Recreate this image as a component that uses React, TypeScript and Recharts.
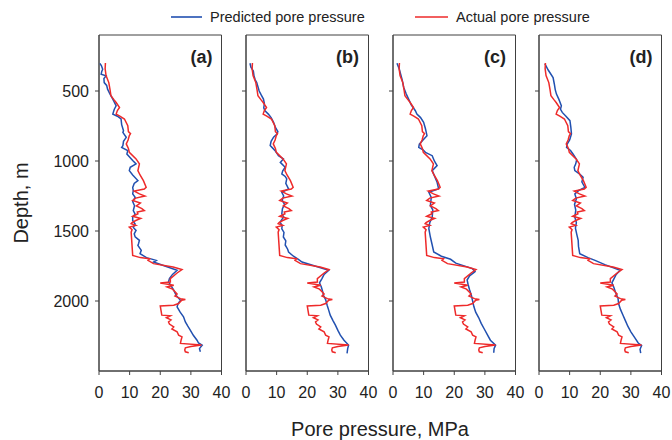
import React from "react";
import { ScatterChart, Scatter, XAxis, YAxis, ReferenceArea } from "recharts";

// [depth m, pore pressure MPa]
const actualRows = [
  [300, 2.1], [340, 2.0], [390, 2.3], [440, 3.2], [490, 3.6], [534, 3.9], [560, 4.8], [582, 5.6],
  [618, 6.7], [640, 6.0], [665, 5.6], [680, 6.8], [700, 8.3], [748, 9.4], [790, 9.6], [805, 10.3],
  [819, 9.9], [850, 9.5], [878, 8.9], [910, 9.6], [938, 9.9], [985, 12.1], [1021, 13.2], [1069, 12.7],
  [1100, 13.4], [1140, 14.5], [1188, 15.4], [1200, 14.8], [1215, 11.5], [1235, 13.2], [1250, 15.0],
  [1265, 12.0], [1282, 11.0], [1300, 13.5], [1320, 12.2], [1340, 14.0], [1354, 14.8], [1365, 12.5],
  [1377, 12.7], [1395, 11.0], [1410, 13.6], [1425, 12.0], [1440, 10.8], [1448, 10.5], [1460, 12.0],
  [1472, 9.9], [1490, 10.8], [1508, 10.5], [1674, 11.0], [1690, 13.5], [1698, 16.5], [1710, 16.0],
  [1733, 17.8], [1757, 24.2], [1776, 27.1], [1800, 25.5], [1840, 23.3], [1864, 23.3], [1871, 20.0],
  [1880, 22.5], [1888, 24.4], [1900, 22.2], [1915, 24.0], [1935, 24.9], [1950, 25.5], [1965, 24.8],
  [1983, 26.6], [1990, 28.2], [1995, 27.0], [2018, 26.0], [2030, 24.4], [2035, 20.0], [2101, 20.5],
  [2106, 23.3], [2120, 22.0], [2135, 23.5], [2149, 22.7], [2165, 23.0], [2185, 24.4], [2200, 23.8],
  [2220, 25.5], [2244, 26.0], [2256, 27.1], [2280, 26.8], [2303, 26.6], [2315, 33.5], [2325, 30.0],
  [2334, 28.2], [2350, 28.0], [2363, 28.2], [2370, 29.3],
];

const predictedRowsA = [
  [302, 0.3], [320, 0.8], [344, 1.2], [360, 0.9], [380, 0.7], [392, 2.3], [410, 1.6], [440, 1.7],
  [460, 2.5], [487, 2.8], [522, 3.6], [558, 4.5], [580, 5.0], [606, 5.6], [630, 5.0], [665, 4.5],
  [680, 6.0], [700, 7.2], [740, 7.4], [784, 8.0], [796, 7.8], [831, 8.9], [860, 8.0], [890, 7.8],
  [903, 7.4], [926, 9.4], [950, 9.1], [997, 11.0], [1021, 12.1], [1045, 10.2], [1069, 9.9],
  [1100, 11.0], [1140, 12.7], [1160, 11.5], [1190, 11.0], [1211, 11.2], [1235, 11.0], [1260, 11.8],
  [1290, 11.0], [1320, 11.6], [1354, 11.2], [1380, 11.8], [1400, 11.0], [1425, 11.0], [1450, 11.8],
  [1475, 11.2], [1496, 12.1], [1520, 11.5], [1542, 11.8], [1567, 13.2], [1591, 12.9], [1603, 12.7],
  [1638, 13.8], [1662, 13.4], [1690, 15.5], [1710, 18.7], [1722, 17.8], [1750, 21.5], [1781, 25.5],
  [1810, 24.0], [1840, 23.0], [1864, 22.7], [1890, 23.5], [1923, 24.4], [1960, 25.2], [1995, 26.6],
  [2020, 25.8], [2042, 25.5], [2080, 26.5], [2113, 27.6], [2150, 28.2], [2180, 29.0], [2208, 29.8],
  [2245, 30.8], [2280, 32.0], [2300, 32.5], [2315, 33.7], [2340, 32.8], [2363, 33.1],
];

const predictedRowsB = [
  [302, 1.3], [330, 1.6], [357, 2.4], [390, 2.6], [420, 3.0], [440, 3.5], [470, 3.9], [500, 4.3],
  [530, 5.0], [558, 5.7], [590, 6.0], [620, 5.8], [641, 6.2], [665, 7.3], [690, 8.2], [724, 9.0],
  [760, 9.6], [790, 10.4], [807, 10.1], [830, 9.0], [860, 8.2], [890, 7.9], [910, 8.8], [926, 9.5],
  [962, 10.6], [985, 12.2], [1010, 11.2], [1045, 12.8], [1070, 12.0], [1092, 11.7], [1110, 12.8],
  [1128, 13.3], [1160, 13.0], [1199, 13.9], [1223, 11.7], [1250, 12.3], [1280, 11.8], [1310, 12.6],
  [1340, 11.9], [1377, 11.7], [1400, 12.3], [1437, 11.1], [1460, 11.8], [1484, 11.7], [1510, 12.4],
  [1543, 12.2], [1570, 13.0], [1600, 12.8], [1630, 13.6], [1650, 13.9], [1680, 15.5], [1702, 17.1],
  [1722, 18.3], [1750, 22.5], [1781, 27.0], [1810, 25.5], [1840, 24.8], [1870, 24.0], [1900, 24.6],
  [1930, 25.0], [1959, 25.3], [1990, 26.0], [2030, 26.5], [2065, 27.0], [2101, 27.5], [2140, 28.4],
  [2172, 29.2], [2210, 30.0], [2244, 30.8], [2280, 32.0], [2315, 33.5], [2340, 33.2], [2374, 33.0],
];

const predictedRowsC = [
  [302, 1.3], [340, 2.0], [380, 2.5], [420, 3.0], [475, 3.5], [520, 4.3], [558, 5.1], [600, 6.0],
  [625, 6.8], [641, 7.3], [665, 7.8], [690, 9.0], [724, 10.0], [770, 10.6], [819, 11.1], [850, 9.8],
  [880, 8.6], [903, 8.4], [920, 9.8], [938, 10.6], [962, 12.8], [1000, 13.5], [1033, 14.4],
  [1069, 12.8], [1110, 13.6], [1152, 14.4], [1199, 14.9], [1223, 11.7], [1260, 12.5], [1318, 12.2],
  [1350, 13.0], [1400, 12.8], [1440, 12.0], [1484, 11.7], [1543, 12.2], [1600, 12.8], [1650, 13.3],
  [1680, 15.8], [1702, 18.8], [1730, 20.5], [1769, 25.9], [1790, 26.8], [1820, 25.0], [1850, 24.2],
  [1880, 24.5], [1920, 25.0], [1960, 25.6], [2000, 26.0], [2040, 26.4], [2080, 27.0], [2120, 28.0],
  [2160, 28.8], [2200, 29.8], [2240, 30.8], [2280, 31.8], [2315, 33.5], [2340, 33.0], [2370, 32.9],
];

const predictedRowsD = [
  [304, 1.9], [350, 3.0], [404, 4.6], [450, 5.0], [490, 5.3], [522, 5.7], [560, 6.5], [606, 7.3],
  [630, 7.0], [653, 7.6], [680, 8.8], [712, 10.1], [760, 10.4], [807, 10.6], [850, 10.0], [880, 9.2],
  [903, 9.0], [925, 10.3], [950, 11.1], [990, 12.3], [1020, 12.0], [1045, 11.5], [1069, 11.7],
  [1092, 13.2], [1116, 14.4], [1150, 14.0], [1188, 15.0], [1210, 13.0], [1235, 11.7], [1270, 12.2],
  [1310, 11.6], [1350, 12.0], [1402, 11.7], [1440, 12.2], [1480, 11.9], [1520, 12.3], [1567, 12.8],
  [1610, 12.9], [1662, 13.3], [1690, 16.0], [1710, 18.3], [1740, 21.5], [1781, 26.5], [1810, 25.2],
  [1840, 24.5], [1870, 23.8], [1900, 24.4], [1940, 25.0], [1980, 25.8], [2020, 26.0], [2060, 26.6],
  [2100, 27.4], [2140, 28.2], [2180, 29.0], [2220, 30.0], [2260, 31.2], [2300, 32.4], [2318, 33.5],
  [2345, 33.0], [2372, 33.2],
];

const panelLabels = ["(a)", "(b)", "(c)", "(d)"];
const pressureTicks = [0, 10, 20, 30, 40];
const depthTicks = [500, 1000, 1500, 2000];

const toPoints = (rows: number[][]) => rows.map(([d, p]) => ({ d, p }));
const actual = toPoints(actualRows);
const predicted = [predictedRowsA, predictedRowsB, predictedRowsC, predictedRowsD].map(toPoints);

const BLUE = "#2150b0";
const RED = "#ee2a2a";
const AXIS = "#404040";
const DEPTH_DOMAIN = [100, 2500];
const PANEL_LEFT = [99, 245.5, 392.5, 539];
const PANEL_W = 122.5;
const PLOT_TOP = 35;
const FONT = "'Liberation Sans', Arial, Helvetica, sans-serif";

const NoDot = () => null;

function Panel({ index }: { index: number }) {
  const first = index === 0;
  return (
    <div style={{ position: "absolute", left: PANEL_LEFT[index] - 60, top: 0 }}>
      <ScatterChart width={193} height={440} margin={{ top: PLOT_TOP, right: 193 - 60 - PANEL_W, bottom: 39, left: 0 }}>
        <XAxis
          type="number"
          dataKey="p"
          domain={[0, 40]}
          ticks={pressureTicks}
          interval={0}
          height={30}
          tickSize={4}
          tickMargin={12}
          stroke={AXIS}
          tick={{ fill: "#222", fontSize: 16 }}
        />
        <YAxis
          type="number"
          dataKey="d"
          domain={DEPTH_DOMAIN}
          reversed
          ticks={depthTicks}
          interval={0}
          width={60}
          tickSize={4}
          tickMargin={6}
          stroke={AXIS}
          tick={{ fill: "#222", fontSize: 16 }}
          tickFormatter={first ? undefined : () => ""}
        />
        <ReferenceArea
          x1={0}
          x2={40}
          y1={DEPTH_DOMAIN[0]}
          y2={DEPTH_DOMAIN[1]}
          fill="none"
          fillOpacity={0}
          stroke={AXIS}
          strokeOpacity={1}
        />
        <Scatter
          data={predicted[index]}
          line={{ stroke: BLUE, strokeWidth: 1.5 }}
          shape={NoDot}
          isAnimationActive={false}
        />
        <Scatter
          data={actual}
          line={{ stroke: RED, strokeWidth: 1.5 }}
          shape={NoDot}
          isAnimationActive={false}
        />
      </ScatterChart>
    </div>
  );
}

export default function App() {
  return (
    <div style={{ position: "absolute", left: 0, top: 0, width: 672, height: 440, background: "#fff", fontFamily: FONT }}>
      {panelLabels.map((_, i) => (
        <Panel key={i} index={i} />
      ))}
      <svg width={672} height={440} style={{ position: "absolute", left: 0, top: 0, pointerEvents: "none" }}>
        <line x1={171} x2={202} y1={17} y2={17} stroke={BLUE} strokeWidth={1.6} />
        <text x={210} y={22} fontSize={14.5} fill="#222">Predicted pore pressure</text>
        <line x1={415} x2={448} y1={17} y2={17} stroke={RED} strokeWidth={1.6} />
        <text x={456} y={22} fontSize={14.5} fill="#222">Actual pore pressure</text>
        {panelLabels.map((label, i) => (
          <text key={label} x={PANEL_LEFT[i] + PANEL_W - 9} y={63} textAnchor="end" fontSize={18} fontWeight="bold" fill="#222">
            {label}
          </text>
        ))}
        <text x={380} y={436} textAnchor="middle" fontSize={20} fill="#222">Pore pressure, MPa</text>
        <text x={28} y={203} textAnchor="middle" fontSize={20} fill="#222" transform="rotate(-90, 28, 203)">
          Depth, m
        </text>
      </svg>
    </div>
  );
}
